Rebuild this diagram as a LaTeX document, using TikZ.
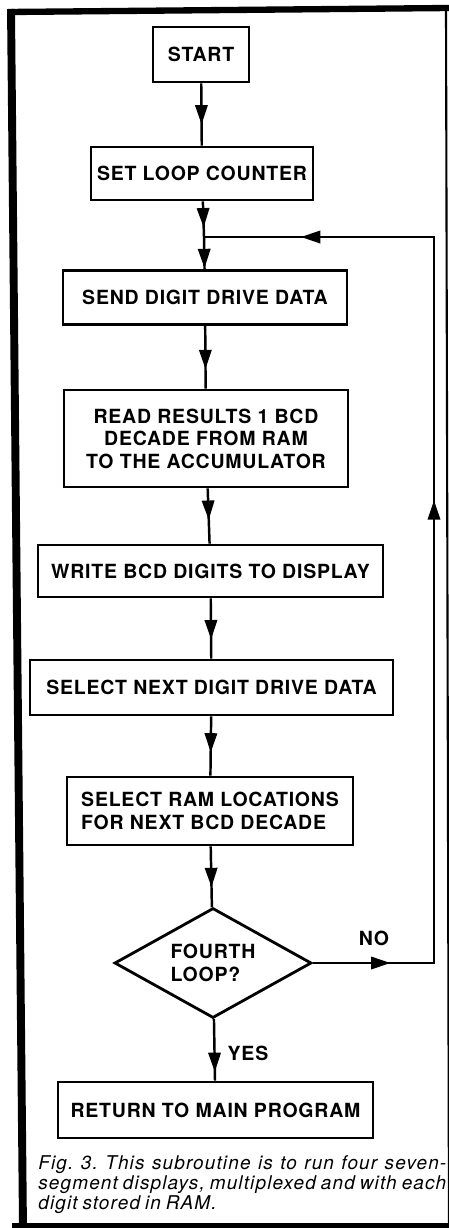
\documentclass[tikz,border=0pt]{standalone}
\usepackage{fontspec}
\setmainfont{TeX Gyre Heros}
\usepackage{tikz}
\usetikzlibrary{shapes.geometric}
\usetikzlibrary{decorations.markings}
\usetikzlibrary{arrows.meta}
\newcommand\boxfont{\fontsize{11.1}{12.8}\selectfont\bfseries\addfontfeatures{LetterSpace=4}}
\newcommand\capfont{\fontsize{10.8}{12}\selectfont\itshape\addfontfeatures{LetterSpace=6}\frenchspacing\spaceskip=0.26em plus 1em minus 0.05em}
\tikzstyle{box}=[draw,line width=1.6pt,rectangle,inner sep=0pt,align=center,font=\boxfont]
\tikzstyle{decision}=[draw,line width=1.6pt,diamond,aspect=2,inner sep=0pt,align=left,font=\boxfont,minimum width=3.94cm,minimum height=2.2cm]
\tikzstyle{flow}=[line width=1.4pt]
\tikzstyle{frame}=[line width=3.6pt]
\tikzset{head/.style={flow,postaction={decorate},decoration={markings,mark=at position #1 with {\arrow{Triangle[length=11pt,width=7pt]}}}}}

\begin{document}
\begin{tikzpicture}[x=0.02cm,y=-0.02cm]
		\useasboundingbox (0,0) rectangle (449,1228);
% frame
		\draw[frame,line width=4.5pt] (11,9) -- (23,1228);
		\draw[frame] (8,12) -- (449,8);
		\draw[line width=1.2pt] (446,8) -- (449,1228);
		\draw[frame] (12,1226) -- (449,1226);

		\node[box,minimum width=1.92cm,minimum height=1.1cm](start) at (201,54.5){START};
		\node[box,minimum width=4.44cm,minimum height=1.06cm](set) at (202,173.5){SET LOOP COUNTER};
		\coordinate (join) at (204,237);
		\coordinate (turn) at (434,237);
		\node[box,minimum width=5.68cm,minimum height=1.08cm](send) at (205,297.5){SEND DIGIT DRIVE DATA};
		\node[box,minimum width=5.68cm,minimum height=1.94cm](read) at (206,438.5){READ RESULTS 1 BCD\\DECADE FROM RAM\\TO THE ACCUMULATOR};
		\node[box,minimum width=6.9cm,minimum height=1.04cm](write) at (210.5,571){WRITE BCD DIGITS TO DISPLAY};
		\node[box,minimum width=7.26cm,minimum height=1.1cm](next) at (211.5,687.5){SELECT NEXT DIGIT DRIVE DATA};
		\node[box,align=left,minimum width=5.72cm,minimum height=1.36cm](ram) at (210,811){SELECT RAM LOCATIONS\\FOR NEXT BCD DECADE};
		\node[decision](dec) at (213,963){FOURTH\\LOOP?};
		\node[box,minimum width=6.3cm,minimum height=1.12cm](ret) at (215.5,1110){RETURN TO MAIN PROGRAM};

% straight down
		\draw[head=0.66] (start) -- (set);
		\draw[head=0.73] (set) -- (join);
		\draw[head=0.97] (join) -- (send);
		\draw[head=0.69] (send) -- (read);
		\draw[head=0.57] (read) -- (write);
		\draw[head=0.68] (write) -- (next);
		\draw[head=0.61] (next) -- (ram);
		\draw[head=0.67] (ram) -- (dec);
		\draw[head=0.86] (dec) -- (ret);
% back round the loop
		\draw[flow,postaction={decorate},decoration={markings,
			mark=at position 0.072 with {\arrow{Triangle[length=11pt,width=7pt]}},
			mark=at position 0.542 with {\arrow{Triangle[length=11pt,width=7pt]}},
			mark=at position 0.910 with {\arrow{Triangle[length=11pt,width=7pt]}}}]
			(dec.east) -- (dec.east -| turn) -- (turn) -- (join);

		\node[font=\boxfont](no) at (374,938){NO};
		\node[font=\boxfont](yes) at (248,1053){YES};

		\node[anchor=base west,inner sep=0,font=\capfont](cap1) at (38,1169){\makebox[8.16cm][s]{Fig. 3. This subroutine is to run four seven-}};
		\node[anchor=base west,inner sep=0,font=\capfont](cap2) at (38,1189){\makebox[8.16cm][s]{segment displays, multiplexed and with each}};
		\node[anchor=base west,inner sep=0,font=\capfont](cap3) at (38,1209){digit stored in RAM.};
	\end{tikzpicture}
\end{document}
